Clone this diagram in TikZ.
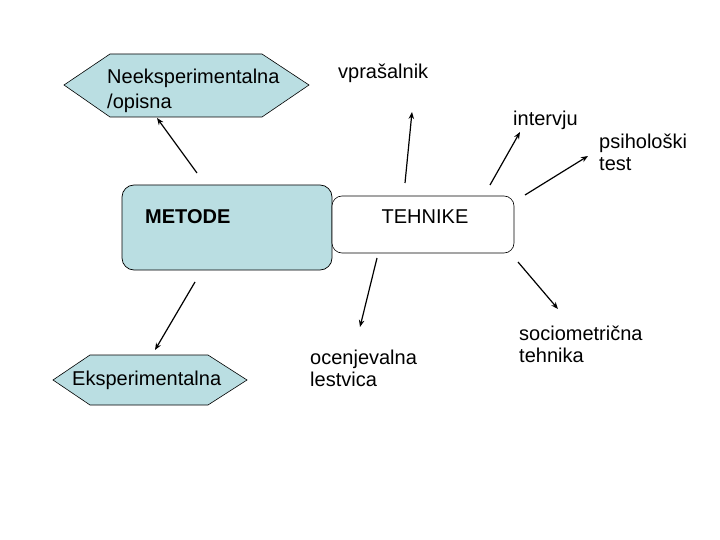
\documentclass[tikz,border=0pt]{standalone}
\usepackage{fontspec}
\setmainfont{Liberation Sans}
\usetikzlibrary{arrows.meta}
\definecolor{lblue}{RGB}{186,222,226}
\begin{document}
\begin{tikzpicture}[x=1pt,y=-1pt,
  lbl/.style={inner sep=0pt,anchor=west,align=left,font=\fontsize{20}{22}\selectfont},
  arr/.style={line width=1.2pt,-{Stealth[length=7pt,width=5.5pt]}},
  hexa/.style={draw=black,line width=0.6pt,fill=lblue}]
\useasboundingbox[fill=white] (0,0) rectangle (720,540);
% hexagons
\draw[hexa] (64,85) -- (110,54) -- (262,54) -- (309,85) -- (262,117) -- (110,117) -- cycle;
\node[lbl,font=\fontsize{20}{25}\selectfont] (neeks) at (107,91) {Neeksperimentalna\\/opisna};
\draw[hexa] (53,380) -- (90,355) -- (208,355) -- (247,380) -- (208,405) -- (90,405) -- cycle;
\node[lbl] (eks) at (72,380) {Eksperimentalna};
% boxes
\draw[fill=lblue,draw=black,line width=0.7pt,rounded corners=12pt] (122,185) rectangle (332,270);
\node[lbl,font=\fontsize{20}{22}\selectfont\bfseries] (metode) at (145,217) {METODE};
\draw[fill=white,draw=black,line width=0.6pt,rounded corners=10pt] (332,196) rectangle (514,253);
\node[lbl,anchor=center] (tehnike) at (425,217) {TEHNIKE};
% labels
\node[lbl] (vpr) at (338,73) {vprašalnik};
\node[lbl] (int) at (513,120) {intervju};
\node[lbl] (psi) at (599,152) {psihološki\\test};
\node[lbl] (oce) at (310,368) {ocenjevalna\\lestvica};
\node[lbl] (soc) at (519,344) {sociometrična\\tehnika};
% arrow coordinates
\coordinate (a1s) at (197,173); \coordinate (a1e) at (157,118);
\coordinate (a2s) at (195,282); \coordinate (a2e) at (155,350);
\coordinate (a3s) at (405,183); \coordinate (a3e) at (412,112);
\coordinate (a4s) at (490,185); \coordinate (a4e) at (520,132);
\coordinate (a5s) at (525,195); \coordinate (a5e) at (588,156);
\coordinate (a6s) at (377,258); \coordinate (a6e) at (360,327);
\coordinate (a7s) at (518,262); \coordinate (a7e) at (558,309);
\draw[arr] (a1s) -- (a1e);
\draw[arr] (a2s) -- (a2e);
\draw[arr] (a3s) -- (a3e);
\draw[arr] (a4s) -- (a4e);
\draw[arr] (a5s) -- (a5e);
\draw[arr] (a6s) -- (a6e);
\draw[arr] (a7s) -- (a7e);
\end{tikzpicture}
\end{document}
